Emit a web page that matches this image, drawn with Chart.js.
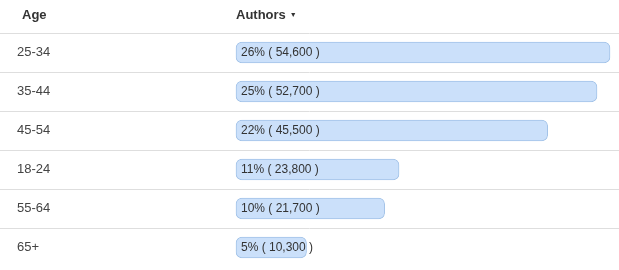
<!DOCTYPE html>
<html>
<head>
<meta charset="utf-8">
<script src="https://cdn.jsdelivr.net/npm/chart.js@4"></script>
<style>
  html, body { margin: 0; padding: 0; background: #fff; }
  .wrap { position: relative; width: 619px; height: 270px; font-family: "Liberation Sans", Arial, sans-serif; }
  .head { position: absolute; top: 7px; font-size: 13px; font-weight: bold; color: #333; }
  .caret { font-size: 7px; vertical-align: 2px; margin-left: 4px; }
</style>
</head>
<body>
<div class="wrap">
  <span class="head" style="left:22px">Age</span>
  <span class="head" style="left:236px">Authors<span class="caret">▼</span></span>
  <canvas id="myChart" width="619" height="270"></canvas>
</div>
<script>
const ages = ['25-34', '35-44', '45-54', '18-24', '55-64', '65+'];
const authors = [54600, 52700, 45500, 23800, 21700, 10300];
const shares = [26, 25, 22, 11, 10, 5];

// text inside each bar: "26% ( 54,600 )"
const barText = {
	id: 'barText',
	afterDatasetsDraw(chart) {
		const c = chart.ctx;
		const bars = chart.getDatasetMeta(0).data;
		c.save();
		c.font = '12px "Liberation Sans", Arial, sans-serif';
		c.fillStyle = '#333';
		c.textBaseline = 'middle';
		bars.forEach((bar, i) => {
			const txt = shares[i] + '% ( ' + authors[i].toLocaleString('en-US') + ' )';
			c.fillText(txt, bar.base + 5, bar.y);
		});
		c.restore();
	}
};

const ctx = document.getElementById('myChart').getContext('2d');
let myChart = new Chart(ctx, {
	type: 'bar',
	data: {
		labels: ages,
		datasets: [
			{
				data: authors,
				backgroundColor: '#cbe0fa',
				borderColor: '#a3c3e8',
				borderWidth: 1,
				borderRadius: 6,
				borderSkipped: false,
				barThickness: 21
			}
		]
	},
	options: {
		indexAxis: 'y',
		responsive: false,
		animation: false,
		layout: { padding: { top: 33, bottom: 3, left: 0, right: 0 } },
		plugins: { legend: { display: false }, tooltip: { enabled: false } },
		scales: {
			x: { display: false, min: -34450, max: 55910 },
			y: {
				border: { display: false },
				grid: {
					drawTicks: false,
					color: c => (c.index < ages.length ? '#dedede' : 'rgba(0,0,0,0)')
				},
				ticks: {
					mirror: true,
					padding: 17,
					color: '#444',
					font: { family: '"Liberation Sans", Arial, sans-serif', size: 13 }
				},
				afterFit: s => { s.width = 0; s.paddingTop = 0; s.paddingBottom = 0; }
			}
		}
	},
	plugins: [barText]
});
</script>
</body>
</html>
